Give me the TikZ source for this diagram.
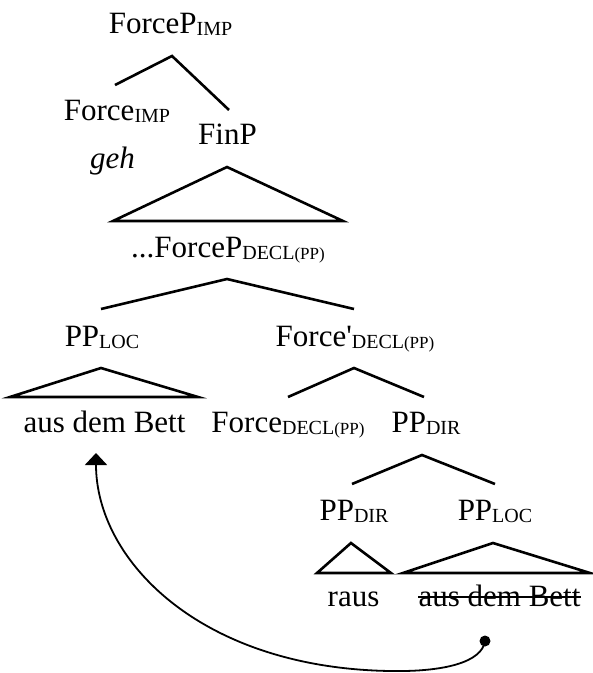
\documentclass[tikz,border=0pt]{standalone}
\usepackage{fontspec}
\setmainfont{Liberation Serif}
\usepackage{tikz}
\usetikzlibrary{arrows.meta}

\newcommand{\sub}[1]{\raisebox{-2pt}{\fontsize{20}{22}\selectfont #1}}
\newcommand{\pp}{{\fontsize{17}{19}\selectfont (PP)}}

\tikzset{
  lbl/.style={inner sep=0pt, anchor=base, font=\fontsize{31}{36}\selectfont},
  branch/.style={line width=2.6pt},
}

\begin{document}
\begin{tikzpicture}[x=1pt,y=-1pt]
\useasboundingbox (0,0) rectangle (593,673);

% top: ForceP_IMP
\node[lbl] (fpimp) at (170.5,33) {ForceP\sub{IMP}};
\node[lbl] (forceimp) at (117,120) {Force\sub{IMP}};
\node[lbl] (geh) at (112.5,168) {\itshape geh};
\node[lbl] (finp) at (227.5,144) {FinP};

\coordinate (fpimpTop) at (172,56);
\coordinate (forceimpEnd) at (115,85);
\coordinate (finpEnd) at (229,110);
\draw[branch] (forceimpEnd) -- (fpimpTop) -- (finpEnd);

% FinP triangle
\coordinate (finpTop) at (227,167);
\coordinate (finpL) at (113,221);
\coordinate (finpR) at (343,221);
\draw[branch] (finpL) -- (finpTop) -- (finpR) -- cycle;

% ...ForceP_DECL(PP)
\node[lbl] (fpdecl) at (228,257) {...ForceP\sub{DECL\pp}};

\coordinate (fpdeclTop) at (227,279);
\coordinate (pplocEnd) at (101,309);
\coordinate (forcebarEnd) at (354,309);
\draw[branch] (pplocEnd) -- (fpdeclTop) -- (forcebarEnd);

\node[lbl] (pploc) at (102,346) {PP\sub{LOC}};
\node[lbl] (forcebar) at (355,346) {Force\textquotesingle\sub{DECL\pp}};

% PP_LOC triangle
\coordinate (pplocTop) at (101,368);
\coordinate (pplocL) at (10,397);
\coordinate (pplocR) at (198,397);
\draw[branch] (pplocL) -- (pplocTop) -- (pplocR) -- cycle;

% Force'_DECL(PP)
\coordinate (forcebarTop) at (354,368);
\coordinate (forcedeclEnd) at (288,397);
\coordinate (ppdirEnd) at (424,397);
\draw[branch] (forcedeclEnd) -- (forcebarTop) -- (ppdirEnd);

\node[lbl] (ausdem) at (104.5,432) {aus dem Bett};
\node[lbl] (forcedecl) at (288,432) {Force\sub{DECL\pp}};
\node[lbl] (ppdir) at (426,432) {PP\sub{DIR}};

% PP_DIR
\coordinate (ppdirTop) at (422,455);
\coordinate (ppdirlowEnd) at (352,484);
\coordinate (pploclowEnd) at (495,484);
\draw[branch] (ppdirlowEnd) -- (ppdirTop) -- (pploclowEnd);

\node[lbl] (ppdirlow) at (354,520) {PP\sub{DIR}};
\node[lbl] (pploclow) at (495,520) {PP\sub{LOC}};

% triangles
\coordinate (rausTop) at (351,543);
\coordinate (rausL) at (317,573);
\coordinate (rausR) at (391,573);
\draw[branch] (rausL) -- (rausTop) -- (rausR) -- cycle;

\coordinate (bettTop) at (493,543);
\coordinate (bettL) at (403,573);
\coordinate (bettR) at (590,573);
\draw[branch] (bettL) -- (bettTop) -- (bettR) -- cycle;

\node[lbl] (raus) at (353.5,606) {raus};
\node[lbl] (struck) at (499.5,606) {aus dem Bett};
\draw[line width=1.6pt] ([yshift=9pt]struck.base west) -- ([yshift=9pt]struck.base east);

% movement
\coordinate (src) at (485,641);
\coordinate (low) at (390,671);
\coordinate (dst) at (96,453);
\fill (src) circle (5.5pt);
\draw[line width=1.8pt,-{Triangle[width=22pt,length=12pt]}]
  (src) .. controls (482,662) and (445,672) .. (low)
  .. controls (200,668) and (96,560) .. (dst);
\end{tikzpicture}
\end{document}
